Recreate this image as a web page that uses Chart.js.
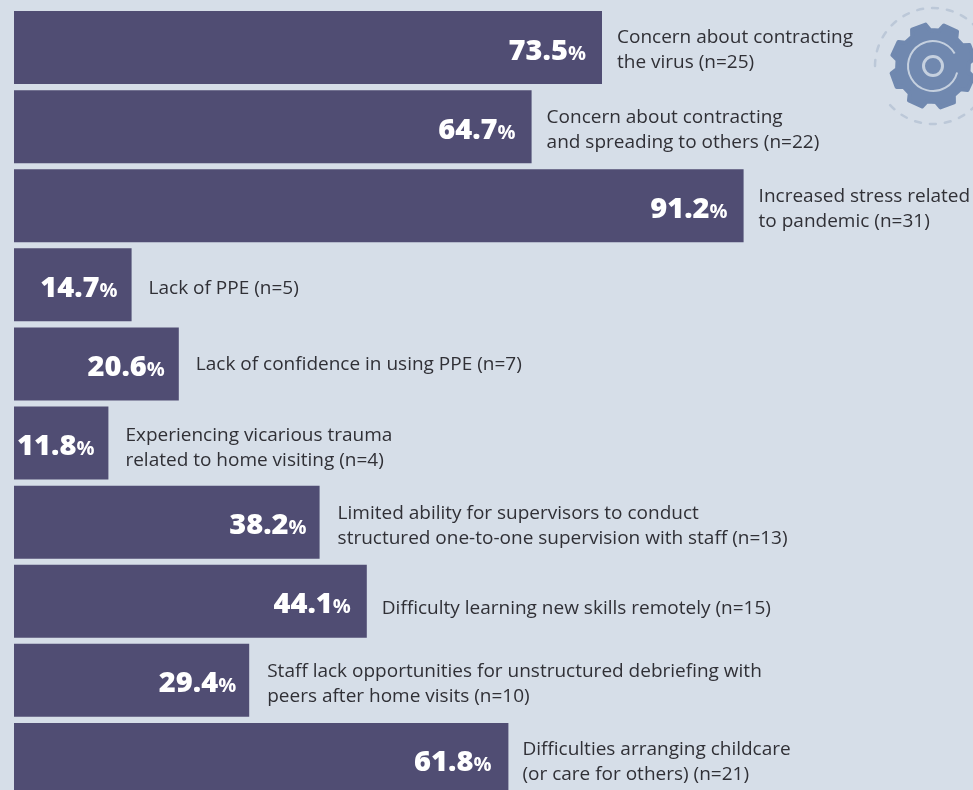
<!DOCTYPE html>
<html>
<head>
<meta charset="utf-8">
<title>Stressors</title>
<script src="https://cdn.jsdelivr.net/npm/chart.js@4"></script>
<style>
    html, body { margin: 0; padding: 0; width: 973px; height: 790px; overflow: hidden; background: #d6dee8; }
    canvas { display: block; }
</style>
</head>
<body>
<canvas id="stressChart" width="973" height="800"></canvas>
<script>
const categories = [
    ['Concern about contracting', 'the virus (n=25)'],
    ['Concern about contracting', 'and spreading to others (n=22)'],
    ['Increased stress related', 'to pandemic (n=31)'],
    ['Lack of PPE (n=5)'],
    ['Lack of confidence in using PPE (n=7)'],
    ['Experiencing vicarious trauma', 'related to home visiting (n=4)'],
    ['Limited ability for supervisors to conduct', 'structured one-to-one supervision with staff (n=13)'],
    ['Difficulty learning new skills remotely (n=15)'],
    ['Staff lack opportunities for unstructured debriefing with', 'peers after home visits (n=10)'],
    ['Difficulties arranging childcare', '(or care for others) (n=21)']
];
const percentages = [73.5, 64.7, 91.2, 14.7, 20.6, 11.8, 38.2, 44.1, 29.4, 61.8];

const BAR_COLOR = '#504d73';
const TEXT_COLOR = '#303036';
const FONT = '"Open Sans", sans-serif';

// small per-row text shifts, the labels do not sit on a strict grid
const textShiftX = [0, 0, 0, 2, 2, 2, 3, 0, 3, -1];
const textShiftY = [1, 2, 2, 3, 0, 4, 3, 6, 3, 2];

// gear badge in the top right corner
function drawGear(ctx, cx, cy) {
    ctx.save();
    ctx.strokeStyle = '#bcc8d8';
    ctx.lineWidth = 2.5;
    ctx.lineCap = 'round';
    ctx.setLineDash([6, 9]);
    ctx.beginPath();
    ctx.arc(cx, cy, 58, Math.PI, Math.PI * 0.77);
    ctx.stroke();
    ctx.setLineDash([]);
    ctx.lineCap = 'butt';

    const teeth = 8, outer = 42, root = 36;
    const start = -20 * Math.PI / 180;
    const step = Math.PI * 2 / teeth;
    ctx.fillStyle = '#7088af';
    ctx.strokeStyle = '#7088af';
    ctx.lineWidth = 4;
    ctx.lineJoin = 'round';
    ctx.beginPath();
    for (let i = 0; i < teeth; i++) {
        const a = start + i * step;
        const pts = [[root, -0.34], [outer, -0.22], [outer, 0.22], [root, 0.34]];
        pts.forEach(p => {
            const t = a + p[1] * step;
            ctx.lineTo(cx + p[0] * Math.cos(t), cy + p[0] * Math.sin(t));
        });
    }
    ctx.closePath();
    ctx.fill();
    ctx.stroke();

    ctx.strokeStyle = '#c5d0df';
    ctx.lineWidth = 2;
    ctx.beginPath();
    ctx.arc(cx, cy, 25, Math.PI / 12, -Math.PI / 6);
    ctx.stroke();
    ctx.lineWidth = 3;
    ctx.beginPath();
    ctx.arc(cx, cy, 9.5, 0, Math.PI * 2);
    ctx.stroke();
    ctx.restore();
}

// percentage inside the bar end, description to the right of it
const barText = {
    id: 'barText',
    afterDatasetsDraw(chart) {
        const ctx = chart.ctx;
        const bars = chart.getDatasetMeta(0).data;
        ctx.save();
        ctx.textBaseline = 'alphabetic';
        bars.forEach((bar, i) => {
            const x = bar.x + textShiftX[i];
            const y = bar.y;

            ctx.fillStyle = '#ffffff';
            ctx.textAlign = 'right';
            ctx.font = '700 20px ' + FONT;
            const pctWidth = ctx.measureText('%').width;
            ctx.fillText('%', x - 16, y + 12);
            ctx.font = '800 29px ' + FONT;
            ctx.fillText(percentages[i].toFixed(1), x - 16 - pctWidth, y + 12);

            ctx.fillStyle = TEXT_COLOR;
            ctx.textAlign = 'left';
            ctx.font = '400 19px ' + FONT;
            const lines = categories[i];
            const top = y - (lines.length - 1) * 12.5 + 6.5 + textShiftY[i];
            lines.forEach((line, k) => {
                ctx.fillText(line, x + 15, top + k * 25);
            });
        });
        ctx.restore();
        drawGear(ctx, 933, 66);
    }
};

new Chart(document.getElementById('stressChart').getContext('2d'), {
    type: 'bar',
    data: {
        labels: categories,
        datasets: [{
            data: percentages,
            backgroundColor: BAR_COLOR,
            borderWidth: 0,
            barPercentage: 0.923,
            categoryPercentage: 1
        }]
    },
    plugins: [barText],
    options: {
        indexAxis: 'y',
        responsive: false,
        animation: false,
        layout: { padding: { left: 14, right: 0, top: 8, bottom: 1 } },
        plugins: { legend: { display: false }, tooltip: { enabled: false } },
        scales: {
            x: { display: false, min: 0, max: 119.875 },
            y: { display: false }
        }
    }
});
</script>
</body>
</html>
